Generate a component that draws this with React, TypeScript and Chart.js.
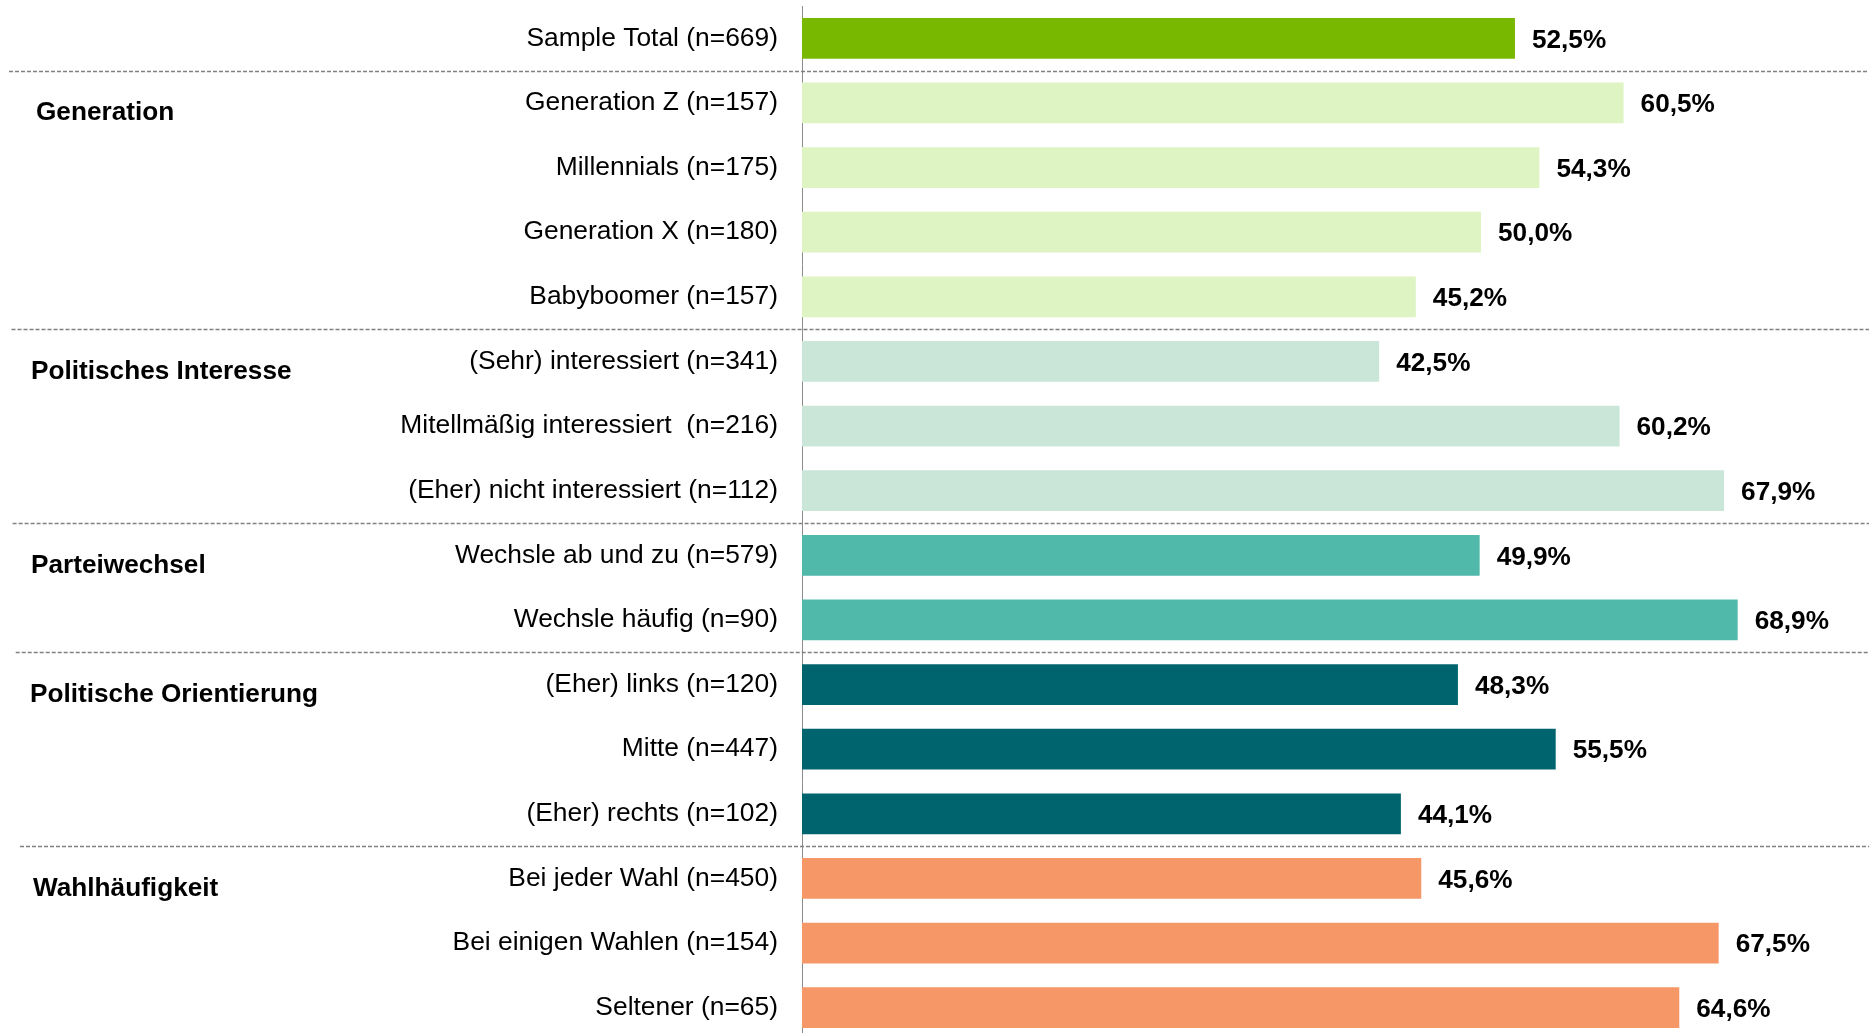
import React, { useEffect, useRef } from "react";
import { Chart, registerables } from "chart.js";

Chart.register(...registerables);

const categories = [
  "Sample Total (n=669)",
  "Generation Z (n=157)",
  "Millennials (n=175)",
  "Generation X (n=180)",
  "Babyboomer (n=157)",
  "(Sehr) interessiert (n=341)",
  "Mitellmäßig interessiert  (n=216)",
  "(Eher) nicht interessiert (n=112)",
  "Wechsle ab und zu (n=579)",
  "Wechsle häufig (n=90)",
  "(Eher) links (n=120)",
  "Mitte (n=447)",
  "(Eher) rechts (n=102)",
  "Bei jeder Wahl (n=450)",
  "Bei einigen Wahlen (n=154)",
  "Seltener (n=65)",
];

const values = [52.5, 60.5, 54.3, 50.0, 45.2, 42.5, 60.2, 67.9, 49.9, 68.9, 48.3, 55.5, 44.1, 45.6, 67.5, 64.6];

const groupNames = ["Generation", "Politisches Interesse", "Parteiwechsel", "Politische Orientierung", "Wahlhäufigkeit"];
const groupFirstRow = [1, 5, 8, 10, 13];

// styles
const totalColor = "#79b800";
const groupColors = ["#dff4c3", "#c9e6d8", "#51b9aa", "#00646e", "#f59767"];
const groupLabelX = [36, 31, 31, 30, 33];
const separatorStartX = [9, 11.5, 12.6, 15.7, 20];

const FONT = '"Liberation Sans", Arial, Helvetica, sans-serif';

function groupOf(row: number): number {
  let g = -1;
  groupFirstRow.forEach((s, k) => {
    if (row >= s) g = k;
  });
  return g;
}

const barColors = categories.map((_, i) => {
  const g = groupOf(i);
  return g < 0 ? totalColor : groupColors[g];
});

const fmt = (v: number) => v.toFixed(1).replace(".", ",") + "%";

const overlayPlugin = {
  id: "overlay",
  afterDatasetsDraw(chart: any) {
    const { ctx } = chart;
    const yScale = chart.scales.y;
    const meta = chart.getDatasetMeta(0);
    ctx.save();
    // value labels
    ctx.font = `bold 26.2px ${FONT}`;
    ctx.fillStyle = "#000";
    ctx.textAlign = "left";
    ctx.textBaseline = "middle";
    meta.data.forEach((bar: any, i: number) => {
      ctx.fillText(fmt(values[i]), bar.x + 17, bar.y + 2);
    });
    // dashed separators
    ctx.strokeStyle = "#808080";
    ctx.lineWidth = 1.3;
    ctx.setLineDash([4, 2]);
    groupFirstRow.forEach((s, k) => {
      const yy = Math.round((yScale.getPixelForValue(s - 1) + yScale.getPixelForValue(s)) / 2) + 0.5;
      ctx.beginPath();
      ctx.moveTo(separatorStartX[k], yy);
      ctx.lineTo(chart.width, yy);
      ctx.stroke();
    });
    ctx.setLineDash([]);
    // group labels
    ctx.font = `bold 26.2px ${FONT}`;
    ctx.fillStyle = "#000";
    ctx.textAlign = "left";
    ctx.textBaseline = "middle";
    groupNames.forEach((name, k) => {
      const yy = yScale.getPixelForValue(groupFirstRow[k]) + 10;
      ctx.fillText(name, groupLabelX[k], yy);
    });
    ctx.restore();
  },
};

export default function App() {
  const ref = useRef<HTMLCanvasElement | null>(null);

  useEffect(() => {
    if (!ref.current) return;
    const chart = new Chart(ref.current, {
      type: "bar",
      data: {
        labels: categories,
        datasets: [
          {
            data: values,
            backgroundColor: barColors,
            borderWidth: 0,
            barPercentage: 0.63,
            categoryPercentage: 1,
          },
        ],
      },
      options: {
        indexAxis: "y",
        responsive: false,
        animation: false,
        devicePixelRatio: 1,
        layout: { padding: { top: 6, left: 0, right: 0, bottom: 0 }, autoPadding: false },
        plugins: {
          legend: { display: false },
          tooltip: { enabled: false },
          title: { display: false },
        },
        scales: {
          x: {
            display: false,
            min: 0,
            max: 78.57,
          },
          y: {
            offset: true,
            grid: { display: false, drawTicks: false },
            border: { display: true, color: "#8c8c8c", width: 1 },
            ticks: {
              color: "#000",
              padding: 24,
              font: { family: FONT, size: 26.4 },
              autoSkip: false,
            },
            afterFit(scale: any) {
              scale.width = 802;
              scale.paddingTop = 0;
              scale.paddingBottom = 0;
            },
          },
        },
      },
      plugins: [overlayPlugin],
    } as any);
    return () => chart.destroy();
  }, []);

  return (
    <div
      style={{
        position: "fixed",
        left: 0,
        top: 0,
        width: 1869,
        height: 1033,
        overflow: "hidden",
        background: "#fff",
      }}
    >
      <canvas ref={ref} width={1869} height={1040} style={{ display: "block", width: 1869, height: 1040 }} />
    </div>
  );
}
